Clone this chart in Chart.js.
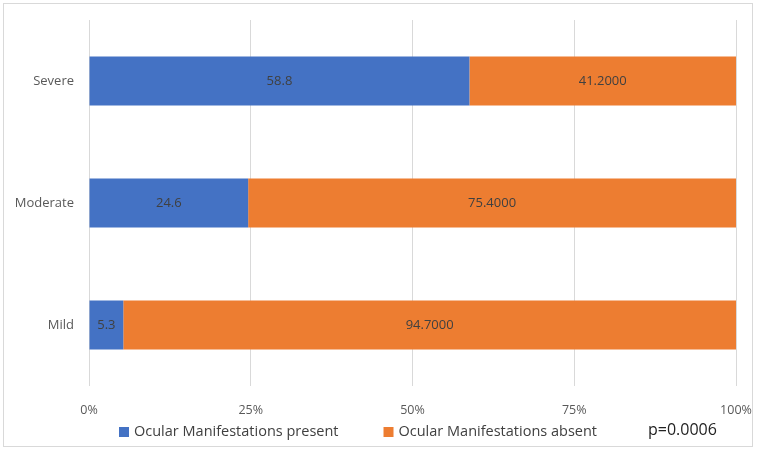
<!DOCTYPE html>
<html><head><meta charset="utf-8">
<script src="https://cdn.jsdelivr.net/npm/chart.js@4"></script>
<style>
html,body{margin:0;padding:0;background:#fff;}
#wrap{position:relative;width:758px;height:451px;}
#frame{position:absolute;left:3px;top:3px;width:750px;height:444px;border:1px solid #d9d9d9;box-sizing:border-box;pointer-events:none;}
canvas{position:absolute;left:0;top:0;}
</style></head>
<body>
<div id="wrap"><canvas id="c" width="758" height="451"></canvas><div id="frame"></div></div>
<script>
const categories = ["Severe", "Moderate", "Mild"];
const presentValues = [58.8, 24.6, 5.3];
const absentValues = [41.2, 75.4, 94.7];
const seriesNames = ["Ocular Manifestations present", "Ocular Manifestations absent"];
const tickValues = [0, 25, 50, 75, 100];
const pValueText = "p=0.0006";

const FONT = "'Open Sans', sans-serif";

const labelPlugin = {
  id: 'valueLabels',
  afterDatasetsDraw(chart) {
    const ctx = chart.ctx;
    ctx.save();
    ctx.font = "13px " + FONT;
    ctx.fillStyle = "#404040";
    ctx.textAlign = "center";
    ctx.textBaseline = "middle";
    chart.data.datasets.forEach((ds, di) => {
      const meta = chart.getDatasetMeta(di);
      meta.data.forEach((el, i) => {
        const v = ds.data[i];
        const txt = di === 0 ? v.toFixed(1) : v.toFixed(4);
        const cx = (el.base + el.x) / 2;
        ctx.fillText(txt, cx, el.y);
      });
    });
    ctx.restore();
  }
};

const legendPlugin = {
  id: 'customLegend',
  afterDraw(chart) {
    const ctx = chart.ctx;
    ctx.save();
    ctx.font = "14.5px " + FONT;
    ctx.textBaseline = "middle";
    let x = 119;
    const y = 432;
    chart.data.datasets.forEach(ds => {
      ctx.fillStyle = ds.backgroundColor;
      ctx.fillRect(x, y - 5, 10, 10);
      x += 15;
      ctx.fillStyle = "#404040";
      ctx.textAlign = "left";
      ctx.fillText(ds.label, x, y);
      x += ctx.measureText(ds.label).width + 45;
    });
    ctx.font = "16px " + FONT;
    ctx.fillStyle = "#222";
    ctx.fillText(pValueText, 648, 430);
    ctx.restore();
  }
};

new Chart(document.getElementById('c'), {
  type: 'bar',
  data: {
    labels: categories,
    datasets: [
      { label: seriesNames[0], data: presentValues, backgroundColor: '#4472C4', barPercentage: 0.4, categoryPercentage: 1 },
      { label: seriesNames[1], data: absentValues, backgroundColor: '#ED7D31', barPercentage: 0.4, categoryPercentage: 1 }
    ]
  },
  options: {
    indexAxis: 'y',
    responsive: false,
    animation: false,
    layout: { padding: { top: 20, right: 22, left: 0, bottom: 0 } },
    plugins: { legend: { display: false }, tooltip: { enabled: false } },
    scales: {
      x: {
        stacked: true, min: 0, max: 100,
        afterBuildTicks(scale) { scale.ticks = tickValues.map(v => ({ value: v })); },
        afterFit(scale) { scale.height = 65; scale.paddingLeft = 0; scale.paddingRight = 0; },
        ticks: { callback: v => v + '%', color: '#595959', font: { family: FONT, size: 12.5 }, padding: 17, maxRotation: 0 },
        grid: { color: '#d9d9d9', drawTicks: false, lineWidth: 1 },
        border: { display: false }
      },
      y: {
        stacked: true,
        afterFit(scale) { scale.width = 89; scale.paddingTop = 0; scale.paddingBottom = 0; },
        ticks: { color: '#595959', font: { family: FONT, size: 13 }, padding: 15 },
        grid: { display: false, drawTicks: false },
        border: { display: false }
      }
    }
  },
  plugins: [labelPlugin, legendPlugin]
});
</script>
</body></html>
